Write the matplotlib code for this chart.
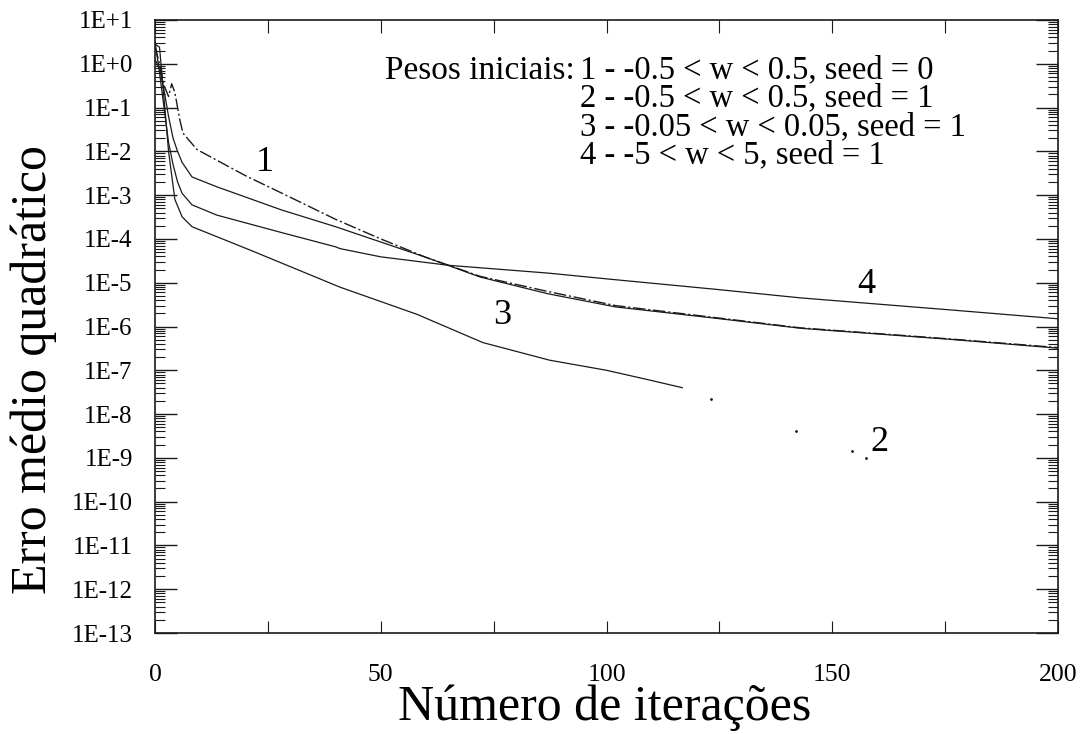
import numpy as np
import matplotlib.pyplot as plt
from matplotlib.ticker import FixedLocator, LogLocator, FuncFormatter, MultipleLocator, NullFormatter

plt.rcParams['font.family'] = ['Liberation Serif', 'DejaVu Serif']

# Erro médio quadrático por iteração, uma curva por inicialização dos pesos
it_1 = [0, 1, 2, 3, 3.7, 4.4, 5.5, 6.2, 9.3, 20, 30, 40, 50, 60, 72, 87, 102, 124, 143, 176, 200]
err_1 = [2.5, 1.0, 0.32, 0.18, 0.35, 0.22, 0.052, 0.026, 1.1e-2, 2.8e-3, 8.9e-4, 2.8e-4, 1.0e-4,
         3.8e-5, 1.4e-5, 6.3e-6, 3.0e-6, 1.6e-6, 9.3e-7, 5.2e-7, 3.3e-7]

it_2 = [0, 1, 2, 3, 4.4, 6, 8.2, 21, 41, 58, 72.6, 87.4, 100, 109.5, 116.8]
err_2 = [2.8, 2.4, 0.16, 1.0e-2, 8.0e-4, 3.2e-4, 1.9e-4, 5.6e-5, 7.9e-6, 1.9e-6, 4.3e-7, 1.7e-7,
         1.0e-7, 6.0e-8, 4.0e-8]
# trecho final da curva 2 (quase apagado)
it_2_fim = [123.2, 142, 154.4, 157.5]
err_2_fim = [2.2e-8, 4.2e-9, 1.4e-9, 1.0e-9]

it_3 = [0, 1, 2, 3, 4, 5, 6, 8.2, 13.7, 28, 40, 50, 60, 72, 87, 102, 124, 143, 176, 200]
err_3 = [1.26, 0.79, 0.25, 6.3e-2, 2.0e-2, 1.0e-2, 5.6e-3, 2.6e-3, 1.55e-3, 4.6e-4, 1.9e-4, 8.5e-5,
         3.8e-5, 1.35e-5, 5.6e-6, 2.8e-6, 1.55e-6, 9.1e-7, 5.1e-7, 3.2e-7]

it_4 = [0, 1, 2, 3, 4, 5, 6, 8.2, 13.7, 28, 40, 41, 50, 65, 87, 102, 124, 143, 176, 200]
err_4 = [3.2, 0.63, 0.1, 1.6e-2, 5.0e-3, 2.0e-3, 1.1e-3, 6.0e-4, 3.5e-4, 1.4e-4, 6.6e-5, 6.0e-5,
         3.9e-5, 2.5e-5, 1.66e-5, 1.17e-5, 7.1e-6, 4.5e-6, 2.4e-6, 1.5e-6]

legenda = ['1 - -0.5 < w < 0.5, seed = 0',
           '2 - -0.5 < w < 0.5, seed = 1',
           '3 - -0.05 < w < 0.05, seed = 1',
           '4 - -5 < w < 5, seed = 1']

expoentes = np.arange(-13, 2)

fig = plt.figure(figsize=(10.86, 7.34), dpi=100)
ax = fig.add_axes([155 / 1086, 1 - 633 / 734, 903 / 1086, 613 / 734])

cor = '#1a1a1a'
ax.plot(it_1, err_1, color=cor, lw=1.0, ls=(0, (9, 2, 1.5, 2)))
ax.plot(it_2, err_2, color=cor, lw=0.9)
ax.plot(it_2_fim, err_2_fim, ls='none', marker='.', ms=2, color=cor)
ax.plot(it_3, err_3, color=cor, lw=0.9)
ax.plot(it_4, err_4, color=cor, lw=0.9)

ax.set_yscale('log')
ax.set_xlim(0, 200)
ax.set_ylim(1e-13, 1e1)

ax.yaxis.set_major_locator(FixedLocator(10.0 ** expoentes))
ax.yaxis.set_major_formatter(FuncFormatter(lambda v, p: '1E%+d' % round(np.log10(v))))
ax.yaxis.set_minor_locator(LogLocator(base=10, subs=np.arange(2, 10), numticks=100))
ax.yaxis.set_minor_formatter(NullFormatter())
ax.xaxis.set_major_locator(FixedLocator([0, 50, 100, 150, 200]))
ax.xaxis.set_minor_locator(MultipleLocator(25))

ax.tick_params(axis='both', which='both', direction='in', top=True, right=True, color=cor)
ax.tick_params(axis='y', which='major', length=16, width=1.0, labelsize=18, pad=16)
ax.tick_params(axis='y', which='minor', length=7, width=0.8)
ax.tick_params(axis='x', which='major', length=9, width=0.8, labelsize=18.5, pad=22)
ax.tick_params(axis='x', which='minor', length=9, width=0.8)

for s in ax.spines.values():
    s.set_linewidth(1.2)
    s.set_color(cor)

# rótulos das curvas
ax.text(24.3, 10 ** -2.26, '1', fontsize=26, ha='center', va='center')
ax.text(160.5, 10 ** -8.66, '2', fontsize=26, ha='center', va='center')
ax.text(76.8, 10 ** -5.74, '3', fontsize=26, ha='center', va='center')
ax.text(157.5, 10 ** -5.05, '4', fontsize=26, ha='center', va='center')

# legenda dos pesos iniciais
ax.text(0.2547, 0.918, 'Pesos iniciais:', transform=ax.transAxes, fontsize=24, va='center')
for i, linha in enumerate(legenda):
    ax.text(0.4707, 0.918 - i * 0.046, linha, transform=ax.transAxes, fontsize=23.5, va='center')

fig.text(34 / 1086, 1 - 370 / 734, 'Erro médio quadrático', rotation=90,
         ha='center', va='center', fontsize=36)
fig.text(605 / 1086, 1 - 708 / 734, 'Número de iterações', ha='center', va='center', fontsize=36)

fig.savefig('out.png', dpi=100)
